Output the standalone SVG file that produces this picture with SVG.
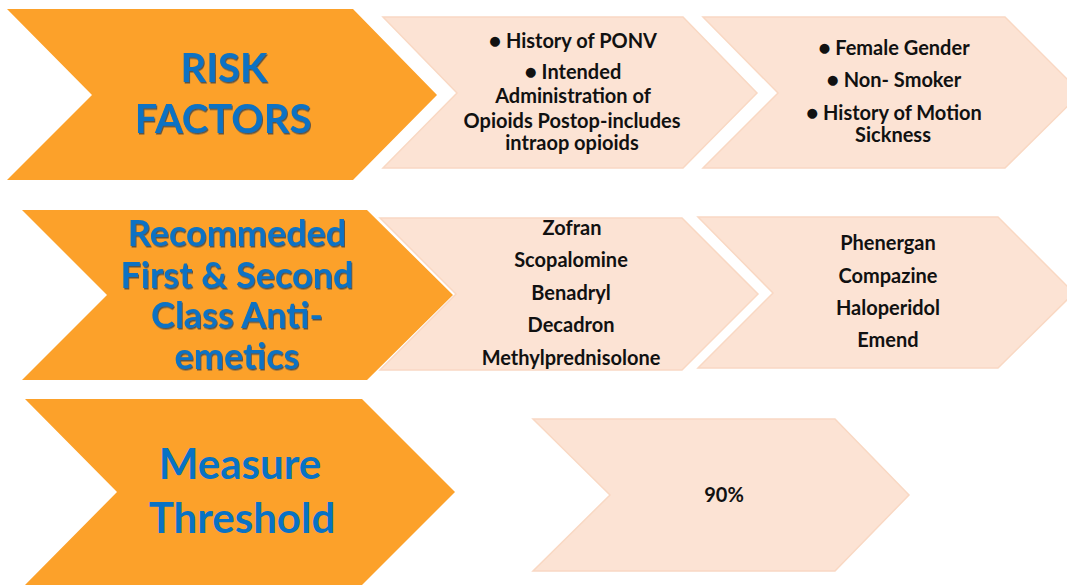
<svg xmlns="http://www.w3.org/2000/svg" width="1067" height="585" viewBox="0 0 1067 585">
<style>
.org{fill:#FCA12A;}
.peach{fill:#FCE3D4;stroke:#F9D8C3;stroke-width:1.5;}
.title{font-family:Lato,"Open Sans","Liberation Sans",sans-serif;font-weight:bold;fill:#0872C4;text-anchor:middle;}
.sh{filter:url(#shadow);}
.body{font-family:Lato,"Open Sans","Liberation Sans",sans-serif;font-weight:bold;font-size:20px;fill:#111;text-anchor:middle;}
</style>
<defs>
<filter id="shadow" x="-10%" y="-20%" width="130%" height="150%">
<feDropShadow dx="1" dy="1.5" stdDeviation="0.7" flood-color="#1d3550" flood-opacity="0.7"/>
</filter>
</defs>
<rect width="1067" height="585" fill="#ffffff"/>
<g id="connectors"></g>

<g id="risk-factors">
<polygon class="org" points="7,9 353,9 437,95 353,180 7,180 92,95"/>
<g class="title sh" font-size="40">
<text x="224" y="82">RISK</text>
<text x="223" y="133">FACTORS</text>
</g>
</g>

<g id="risk-list-1">
<polygon class="peach" points="383,17 683,17 757,93 683,168 383,168 457,93"/>
<text class="body" x="573" y="48">● History of PONV</text>
<text class="body" x="573" y="79">● Intended</text>
<text class="body" x="573" y="103">Administration of</text>
<text class="body" x="572" y="128">Opioids Postop-includes</text>
<text class="body" x="572" y="150">intraop opioids</text>
</g>

<g id="risk-list-2">
<polygon class="peach" points="703,17 1005,17 1081,93 1005,168 703,168 778,93"/>
<text class="body" x="894" y="55">● Female Gender</text>
<text class="body" x="894" y="87">● Non- Smoker</text>
<text class="body" x="894" y="120">● History of Motion</text>
<text class="body" x="893" y="142">Sickness</text>
</g>

<g id="antiemetics">
<polygon class="org" points="22,210 367,210 453,295 367,380 22,380 107,295"/>
<g class="title sh" font-size="36">
<text x="237" y="246">Recommeded</text>
<text x="237" y="288">First &amp; Second</text>
<text x="237" y="328">Class Anti-</text>
<text x="237" y="369">emetics</text>
</g>
</g>

<g id="antiemetics-list-1">
<polygon class="peach" points="380,218 682,218 758,294 682,370 380,370 456,294"/>
<text class="body" x="572" y="235">Zofran</text>
<text class="body" x="571" y="267">Scopalomine</text>
<text class="body" x="571" y="300">Benadryl</text>
<text class="body" x="571" y="332">Decadron</text>
<text class="body" x="571" y="365">Methylprednisolone</text>
</g>

<g id="antiemetics-list-2">
<polygon class="peach" points="698,217 998,217 1074,293 998,368 698,368 773,293"/>
<text class="body" x="888" y="250">Phenergan</text>
<text class="body" x="888" y="283">Compazine</text>
<text class="body" x="888" y="315">Haloperidol</text>
<text class="body" x="888" y="347">Emend</text>
</g>

<g id="measure-threshold">
<polygon class="org" points="25,399 362,399 455,492 362,585 25,585 117,492"/>
<g class="title" font-size="42">
<text x="240" y="479">Measure</text>
<text x="242" y="533">Threshold</text>
</g>
</g>

<g id="threshold-value">
<polygon class="peach" points="533,419 835,419 909,495 835,571 533,571 610,495"/>
<text class="body" x="724" y="502">90%</text>
</g>
</svg>
